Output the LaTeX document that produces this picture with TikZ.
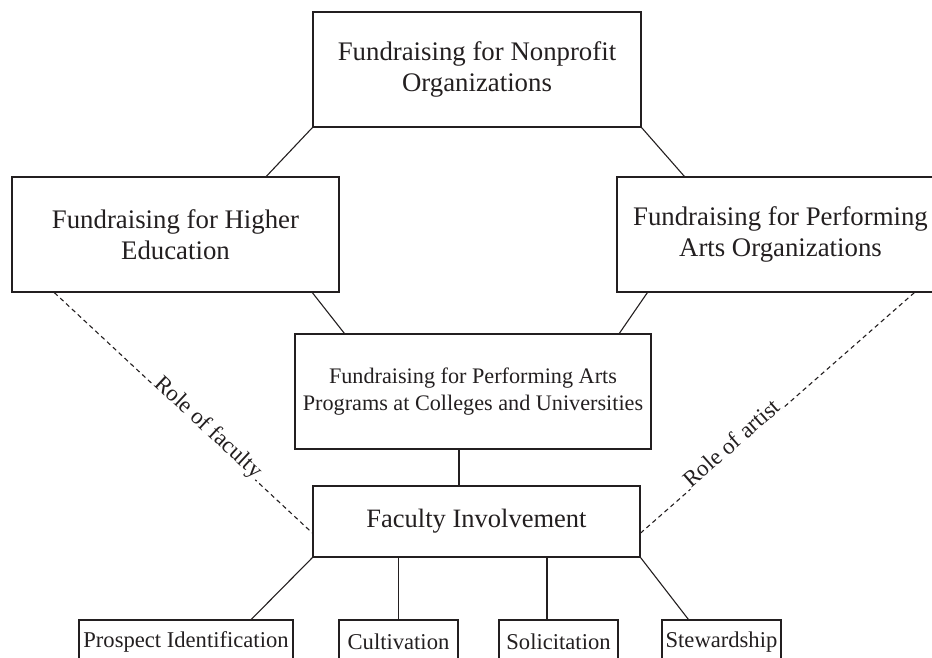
\documentclass[tikz,border=0pt]{standalone}
\usepackage{fontspec}
\setmainfont{Liberation Serif}
\definecolor{ink}{HTML}{231F20}
\begin{document}
\begin{tikzpicture}[x=1pt,y=-1pt,
  box/.style={draw=ink,line width=1.3pt,rectangle,inner sep=0pt,align=center,text=ink},
  big/.style={font=\fontsize{26.8}{30.5}\selectfont},
  mid/.style={font=\fontsize{22.2}{27}\selectfont},
  small/.style={font=\fontsize{22.6}{27}\selectfont},
  conn/.style={draw=ink,line width=1.1pt},
  dashconn/.style={draw=ink,line width=1.1pt,dash pattern=on 4.5pt off 3.5pt},
  rolelabel/.style={sloped,anchor=base,fill=white,inner sep=1pt,text=ink,font=\fontsize{23}{26}\selectfont}]
\useasboundingbox (0,0) rectangle (932,658);
\clip (0,0) rectangle (932,658);

\node[box,big,minimum width=328pt,minimum height=115pt] (T) at (477,69.5) {Fundraising for Nonprofit\\Organizations};
\node[box,big,minimum width=327pt,minimum height=115pt] (L) at (175.5,234.5) {Fundraising for Higher\\Education};
\node[box,big,minimum width=327pt,minimum height=115pt] (R) at (780.5,234.5) {Fundraising for Performing\\Arts Organizations};
\node[box,mid,minimum width=356pt,minimum height=115pt] (C) at (473,391.5) {Fundraising for Performing Arts\\Programs at Colleges and Universities};
\node[box,font=\fontsize{26.5}{30}\selectfont,minimum width=327pt,minimum height=71pt] (F) at (476.5,521.5) {Faculty Involvement};

\node[box,small,minimum width=214pt,minimum height=44pt] (P) at (186,642) {Prospect Identification};
\node[box,small,minimum width=119pt,minimum height=44pt] (Cu) at (398.5,642) {Cultivation};
\node[box,small,minimum width=119pt,minimum height=44pt] (So) at (558.5,642) {Solicitation};
\node[box,small,minimum width=119pt,minimum height=44pt] (St) at (721.5,642) {Stewardship};

\draw[conn] (T.south west) -- ([xshift=255pt]L.north west);
\draw[conn] (T.south east) -- ([xshift=68pt]R.north west);
\draw[conn] ([xshift=301pt]L.south west) -- ([xshift=50pt]C.north west);
\draw[conn] ([xshift=31pt]R.south west) -- ([xshift=325pt]C.north west);
\draw[conn] ([xshift=-14pt]C.south) -- ([xshift=-14pt]C.south |- F.north);

\draw[dashconn] ([xshift=43pt]L.south west) -- node[rolelabel,pos=0.58] {Role of faculty} ([yshift=-11.5pt]F.west);
\draw[dashconn] ([xshift=298pt]R.south west) -- node[rolelabel,pos=0.65] {Role of artist} ([yshift=-11.5pt]F.east);

\draw[conn] (F.south west) -- ([xshift=173pt]P.north west);
\draw[conn] (Cu.north) -- (Cu.north |- F.south);
\draw[conn] ([xshift=-11.5pt]So.north) -- ([xshift=-11.5pt]So.north |- F.south);
\draw[conn] (F.south east) -- ([xshift=27pt]St.north west);
\end{tikzpicture}
\end{document}
